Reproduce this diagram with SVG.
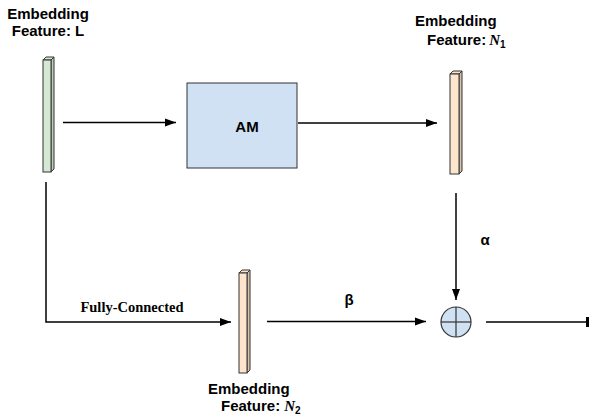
<svg xmlns="http://www.w3.org/2000/svg" width="590" height="416" viewBox="0 0 590 416">
  <style>
    .lbl { font-family: "Liberation Sans", Arial, sans-serif; font-weight: bold; font-size: 15px; fill: #000; }
    .math { font-family: "Liberation Serif", "Times New Roman", serif; font-style: italic; font-weight: bold; }
    .fc { font-family: "Liberation Serif", "Times New Roman", serif; font-weight: bold; font-size: 14.5px; fill: #000; }
    .edge { fill: none; stroke: #000; stroke-width: 1.5; }
    .bar-front { stroke: #333; stroke-width: 1; }
    .bar-top { stroke: #333; stroke-width: 1; }
    .bar-side { stroke: #333; stroke-width: 1; }
    .green .bar-front, .green .bar-top { fill: #d5e8d4; }
    .green .bar-side { fill: #b9cdb8; }
    .peach .bar-front, .peach .bar-top { fill: #fde5cd; }
    .peach .bar-side { fill: #d9c2ab; }
  </style>
  <defs>
    <marker id="arrow" markerUnits="userSpaceOnUse" markerWidth="12" markerHeight="10" refX="11" refY="5" orient="auto">
      <path d="M0,1 L11,5 L0,9 Z" fill="#000"/>
    </marker>
    <marker id="tee" markerUnits="userSpaceOnUse" markerWidth="4" markerHeight="10" refX="2" refY="5" orient="auto">
      <rect x="0" y="0" width="3" height="10" fill="#000"/>
    </marker>
  </defs>

  <!-- input embedding L -->
  <g id="feature-L" class="green">
    <polygon class="bar-side" points="51,60 54,57 54,169 51,172"/>
    <polygon class="bar-top" points="43,60 46,57 54,57 51,60"/>
    <rect class="bar-front" x="43" y="60" width="8" height="112"/>
    <text class="lbl" x="48" y="19" text-anchor="middle">Embedding</text>
    <text class="lbl" x="48" y="36" text-anchor="middle">Feature: L</text>
  </g>

  <!-- attention module -->
  <g id="am">
    <rect x="187" y="83" width="110" height="85" fill="#d0e1f3" stroke="#333" stroke-width="1"/>
    <text class="lbl" x="247" y="132" text-anchor="middle" font-size="14">AM</text>
  </g>

  <!-- embedding N1 -->
  <g id="feature-N1" class="peach">
    <polygon class="bar-side" points="459,74 462,71 462,171 459,174"/>
    <polygon class="bar-top" points="450,74 453,71 462,71 459,74"/>
    <rect class="bar-front" x="450" y="74" width="9" height="100"/>
    <text class="lbl" x="415" y="26">Embedding</text>
    <text class="lbl" x="427" y="45">Feature:<tspan class="math" dx="3">N</tspan><tspan font-size="10" dy="3">1</tspan></text>
  </g>

  <!-- embedding N2 -->
  <g id="feature-N2" class="peach">
    <polygon class="bar-side" points="247,273 250,270 250,370 247,373"/>
    <polygon class="bar-top" points="239,273 242,270 250,270 247,273"/>
    <rect class="bar-front" x="239" y="273" width="8" height="100"/>
    <text class="lbl" x="208" y="394">Embedding</text>
    <text class="lbl" x="221" y="411">Feature:<tspan class="math" dx="4">N</tspan><tspan font-size="10" dy="3">2</tspan></text>
  </g>

  <!-- element-wise sum -->
  <g id="sum">
    <circle cx="456" cy="322" r="15" fill="#d0e1f3" stroke="#333" stroke-width="1.2"/>
    <line x1="441" y1="322" x2="471" y2="322" stroke="#333" stroke-width="1.2"/>
    <line x1="456" y1="307" x2="456" y2="337" stroke="#333" stroke-width="1.2"/>
  </g>

  <g id="connectors">
    <line class="edge" x1="63" y1="122.5" x2="176" y2="122.5" marker-end="url(#arrow)"/>
    <line class="edge" x1="298" y1="123" x2="437" y2="123" marker-end="url(#arrow)"/>
    <line class="edge" x1="456" y1="193" x2="456" y2="300" marker-end="url(#arrow)"/>
    <path class="edge" d="M46,182 V322 H231" marker-end="url(#arrow)"/>
    <line class="edge" x1="267" y1="321.5" x2="426" y2="321.5" marker-end="url(#arrow)"/>
    <line class="edge" x1="486" y1="322" x2="588" y2="322" marker-end="url(#tee)"/>
    <text class="fc" x="132" y="312" text-anchor="middle">Fully-Connected</text>
    <text class="lbl" x="485" y="245" text-anchor="middle" font-size="14">α</text>
    <text class="lbl" x="349" y="305" text-anchor="middle" font-size="14">β</text>
  </g>
</svg>
